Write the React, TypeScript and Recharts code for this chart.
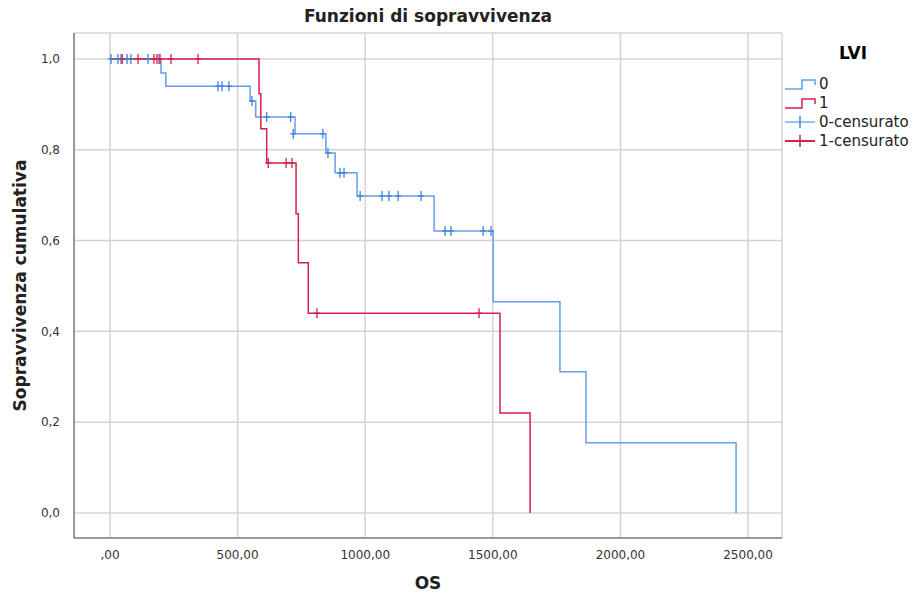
import { ComposedChart, Line, Scatter, XAxis, YAxis, CartesianGrid, Legend } from 'recharts';

// Kaplan-Meier steps, LVI = 0
const lvi0Times = [0, 200, 219, 549, 571, 725, 846, 882, 968, 1270, 1501, 1763, 1865, 2453];
const lvi0Surv = [1, 0.969, 0.94, 0.907, 0.872, 0.835, 0.793, 0.749, 0.698, 0.621, 0.465, 0.311, 0.155, 0];

// Kaplan-Meier steps, LVI = 1
const lvi1Times = [0, 584, 591, 614, 729, 738, 777, 1528, 1646];
const lvi1Surv = [1, 0.923, 0.846, 0.771, 0.659, 0.551, 0.44, 0.22, 0];

// censored cases
const cens0Times = [4, 31, 43, 67, 82, 149, 192, 423, 439, 466, 556, 614, 708, 718, 834, 854, 901, 917, 980, 1066, 1093, 1129, 1219, 1313, 1336, 1462, 1493];
const cens0Surv = [1, 1, 1, 1, 1, 1, 1, 0.94, 0.94, 0.94, 0.907, 0.872, 0.872, 0.835, 0.835, 0.793, 0.749, 0.749, 0.698, 0.698, 0.698, 0.698, 0.698, 0.621, 0.621, 0.621, 0.621];
const cens1Times = [48, 110, 172, 184, 196, 239, 345, 620, 690, 713, 811, 1446];
const cens1Surv = [1, 1, 1, 1, 1, 1, 1, 0.771, 0.771, 0.771, 0.44, 0.44];

const xTicks = [0, 500, 1000, 1500, 2000, 2500];
const yTicks = [0, 0.2, 0.4, 0.6, 0.8, 1];

const BLUE = '#649fe8';
const BLUE_MARK = '#3f82dc';
const RED = '#d61f4b';
const FONT = '"DejaVu Sans", sans-serif';

const toPoints = (ts: number[], ss: number[]) => ts.map((t, i) => ({ t, s: ss[i] }));

const curve0 = toPoints(lvi0Times, lvi0Surv);
const curve1 = toPoints(lvi1Times, lvi1Surv);
const cens0 = toPoints(cens0Times, cens0Surv);
const cens1 = toPoints(cens1Times, cens1Surv);

const fmtX = (v: number) => (v === 0 ? ',00' : `${v},00`);
const fmtY = (v: number) => v.toFixed(1).replace('.', ',');

function CensorMark(color: string) {
  return (props: any) => {
    const { cx, cy } = props;
    if (cx == null || cy == null) return null;
    return (
      <g stroke={color} strokeWidth={1.3}>
        <line x1={cx} y1={cy - 5} x2={cx} y2={cy + 5} />
        <line x1={cx - 3} y1={cy} x2={cx + 3} y2={cy} />
      </g>
    );
  };
}

function StepIcon({ color }: { color: string }) {
  return (
    <svg width={32} height={14} style={{ verticalAlign: 'middle' }}>
      <polyline points="1,12 18,12 18,3 31,3 31,8" fill="none" stroke={color} strokeWidth={1.5} />
    </svg>
  );
}

function PlusIcon({ color, mark }: { color: string; mark: string }) {
  return (
    <svg width={32} height={14} style={{ verticalAlign: 'middle' }}>
      <line x1={1} y1={7} x2={31} y2={7} stroke={color} strokeWidth={2} />
      <line x1={16} y1={1} x2={16} y2={13} stroke={mark} strokeWidth={1.5} />
    </svg>
  );
}

function KmLegend() {
  const row = { display: 'flex', alignItems: 'center', height: 19, fontSize: 15, color: '#222' } as const;
  return (
    <div style={{ fontFamily: FONT }}>
      <div style={{ fontWeight: 'bold', fontSize: 17, marginLeft: 55, marginBottom: 11 }}>LVI</div>
      <div style={row}><StepIcon color={BLUE} /><span style={{ marginLeft: 3 }}>0</span></div>
      <div style={row}><StepIcon color={RED} /><span style={{ marginLeft: 3 }}>1</span></div>
      <div style={row}><PlusIcon color="#9cc2f0" mark={BLUE_MARK} /><span style={{ marginLeft: 3 }}>0-censurato</span></div>
      <div style={row}><PlusIcon color={RED} mark={RED} /><span style={{ marginLeft: 3 }}>1-censurato</span></div>
    </div>
  );
}

export default function App() {
  return (
    <div style={{ position: 'absolute', left: 0, top: 0, width: 918, height: 600, background: '#fff' }}>
      <div
        style={{
          position: 'absolute',
          left: 74,
          width: 708,
          top: 6,
          textAlign: 'center',
          fontFamily: FONT,
          fontWeight: 'bold',
          fontSize: 17,
          color: '#222',
        }}
      >
        Funzioni di sopravvivenza
      </div>
      <ComposedChart width={918} height={600} margin={{ top: 33, right: 136, bottom: 0, left: 0 }}>
        <CartesianGrid stroke="#d4d4d4" strokeWidth={1.5} horizontal vertical />
        <XAxis
          dataKey="t"
          type="number"
          domain={[-141, 2633]}
          ticks={xTicks}
          allowDataOverflow
          tickFormatter={fmtX}
          height={62}
          axisLine={{ stroke: '#555' }}
          tickLine={false}
          tick={{ fontSize: 12, fill: '#333', fontFamily: FONT }}
          tickMargin={6}
          label={{ value: 'OS', position: 'insideBottom', offset: 11, style: { fontSize: 17, fontWeight: 'bold', fill: '#222', fontFamily: FONT } }}
        />
        <YAxis
          type="number"
          domain={[-0.055, 1.057]}
          ticks={yTicks}
          allowDataOverflow
          tickFormatter={fmtY}
          width={74}
          axisLine={{ stroke: '#555' }}
          tickLine={false}
          tick={{ fontSize: 12, fill: '#333', fontFamily: FONT }}
          tickMargin={8}
          label={{ value: 'Sopravvivenza cumulativa', angle: -90, position: 'insideLeft', offset: 20, style: { textAnchor: 'middle', fontSize: 17, fontWeight: 'bold', fill: '#222', fontFamily: FONT } }}
        />
        <Legend
          layout="vertical"
          align="center"
          verticalAlign="middle"
          content={<KmLegend />}
          wrapperStyle={{ left: 784, top: 43, width: 134 }}
        />
        <Line data={curve0} dataKey="s" type="stepAfter" stroke={BLUE} strokeWidth={1.5} dot={false} isAnimationActive={false} legendType="none" />
        <Line data={curve1} dataKey="s" type="stepAfter" stroke={RED} strokeWidth={1.5} dot={false} isAnimationActive={false} legendType="none" />
        <Scatter data={cens0} dataKey="s" shape={CensorMark(BLUE_MARK)} isAnimationActive={false} legendType="none" />
        <Scatter data={cens1} dataKey="s" shape={CensorMark(RED)} isAnimationActive={false} legendType="none" />
      </ComposedChart>
    </div>
  );
}
